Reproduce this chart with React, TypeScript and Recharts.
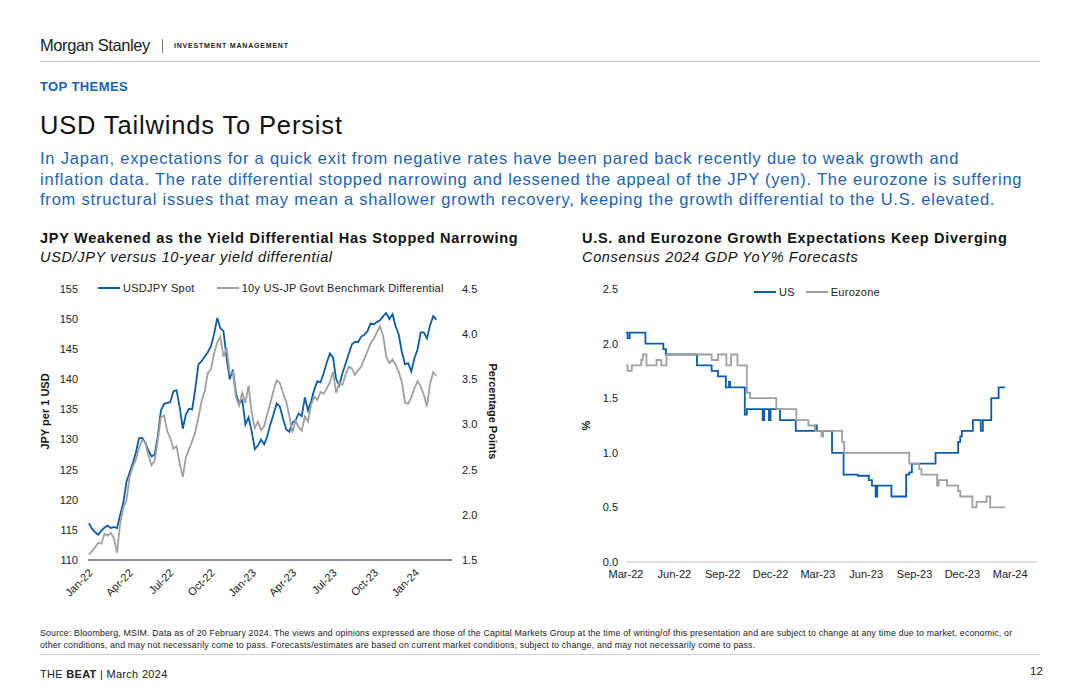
import { LineChart, Line, XAxis, YAxis, Legend, Label } from 'recharts';

const DAY = 86400000;

// USD/JPY vs 10y differential, weekly readings from 3 Jan 2022
const fxWeekStart = '2022-01-03';
const usdJpySpot = [
  116.1, 115.2, 114.6, 114.2, 114.9, 115.4, 115.7, 115.3, 115.5, 115.3,
  117.5, 119.5, 123.0, 124.5, 126.0, 127.8, 130.2, 130.3, 129.5, 128.2,
  127.2, 127.5, 130.5, 134.8, 135.9, 136.1, 136.2, 138.0, 138.2, 135.4,
  131.8, 134.2, 135.1, 135.0, 138.5, 142.5, 143.0, 143.8, 144.5, 145.5,
  147.5, 150.2, 148.5, 148.0, 143.5, 140.0, 141.6, 137.6, 136.0, 136.5,
  132.5, 133.7, 131.4, 128.4, 129.0, 130.0, 129.2, 130.6, 132.6, 134.2,
  136.0, 135.5, 133.5, 131.7, 131.3, 132.8, 133.2, 134.3, 133.9, 137.0,
  134.8, 136.4, 138.3, 139.7, 139.5, 141.0, 142.8, 144.3, 143.6, 140.0,
  139.0, 141.0, 142.6, 144.2, 145.8, 146.2, 146.2, 147.1, 147.4, 148.0,
  149.3, 149.1, 149.5, 149.8, 150.5, 151.0, 150.0, 150.8, 148.8, 147.4,
  144.5, 142.5, 142.7, 141.3, 143.5, 145.0, 147.8, 147.8, 146.8, 149.0,
  150.5, 149.9,
];
const yieldDiff = [
  1.56, 1.6, 1.64, 1.69, 1.68, 1.79, 1.77, 1.8, 1.74, 1.58,
  1.91, 2.08, 2.16, 2.42, 2.53, 2.61, 2.74, 2.83, 2.8, 2.66,
  2.55, 2.6, 2.82, 3.08, 3.1, 2.93, 2.85, 2.73, 2.76, 2.57,
  2.42, 2.64, 2.73, 2.82, 2.92, 3.08, 3.26, 3.37, 3.57, 3.61,
  3.79, 3.91, 3.97, 3.75, 3.85, 3.56, 3.58, 3.3, 3.21, 3.35,
  3.24, 3.43, 3.13, 2.96, 3.03, 2.94, 2.98, 3.12, 3.24, 3.38,
  3.49, 3.46, 3.35, 3.26, 3.1, 2.91, 3.04, 2.97, 2.93, 3.09,
  3.03, 3.22, 3.31, 3.27, 3.36, 3.34, 3.4, 3.47, 3.58, 3.35,
  3.46, 3.44, 3.55, 3.64, 3.62, 3.55, 3.6, 3.64, 3.73, 3.81,
  3.9, 3.95, 4.02, 4.09, 3.98, 3.75, 3.68, 3.72, 3.66, 3.58,
  3.47, 3.24, 3.23, 3.3, 3.4, 3.48, 3.42, 3.33, 3.2, 3.45,
  3.58, 3.54,
];
const fxTickDates = [
  '2022-01-01', '2022-04-01', '2022-07-01', '2022-10-01', '2023-01-01',
  '2023-04-01', '2023-07-01', '2023-10-01', '2024-01-01',
];
const fxTickLabels = ['Jan-22', 'Apr-22', 'Jul-22', 'Oct-22', 'Jan-23', 'Apr-23', 'Jul-23', 'Oct-23', 'Jan-24'];
const jpyTicks = [110, 115, 120, 125, 130, 135, 140, 145, 150, 155];
const diffTicks = [1.5, 2.0, 2.5, 3.0, 3.5, 4.0, 4.5];

// consensus 2024 GDP forecasts, value holds from each date
const usGdpDates = [
  '2022-03-01', '2022-03-04', '2022-03-08', '2022-04-07', '2022-05-11', '2022-05-16',
  '2022-07-14', '2022-08-11', '2022-08-23', '2022-09-07', '2022-09-13', '2022-09-15',
  '2022-10-13', '2022-10-17', '2022-11-16', '2022-11-19', '2022-11-28', '2022-12-01',
  '2022-12-19', '2023-01-18', '2023-02-24', '2023-02-27', '2023-03-28', '2023-04-19',
  '2023-05-16', '2023-06-06', '2023-06-12', '2023-06-19', '2023-06-22', '2023-07-19',
  '2023-08-16', '2023-08-22', '2023-08-27', '2023-10-11', '2023-11-23', '2023-11-27',
  '2023-11-30', '2023-12-21', '2024-01-05', '2024-01-09', '2024-01-25', '2024-02-08',
  '2024-02-20',
];
const usGdpValues = [
  2.1, 2.05, 2.1, 2.0, 1.95, 1.9,
  1.8, 1.75, 1.7, 1.6, 1.65, 1.6,
  1.35, 1.4, 1.3, 1.4, 1.3, 1.4,
  1.3, 1.2, 1.25, 1.2, 1.0, 0.8,
  0.79, 0.75, 0.7, 0.6, 0.7, 0.6,
  0.8, 0.82, 0.9, 1.0, 1.1, 1.15,
  1.2, 1.3, 1.2, 1.3, 1.5, 1.6,
  1.6,
];
const ezGdpDates = [
  '2022-03-01', '2022-03-04', '2022-03-12', '2022-03-30', '2022-04-02', '2022-04-09',
  '2022-04-28', '2022-05-07', '2022-05-17', '2022-08-11', '2022-08-23', '2022-09-08',
  '2022-09-17', '2022-09-29', '2022-10-17', '2022-10-23', '2022-12-12', '2023-01-19',
  '2023-02-11', '2023-02-24', '2023-03-08', '2023-03-11', '2023-04-16', '2023-04-20',
  '2023-08-22', '2023-09-10', '2023-09-14', '2023-10-14', '2023-10-17', '2023-11-02',
  '2023-11-23', '2023-11-27', '2023-12-20', '2023-12-28', '2024-01-16', '2024-01-23',
  '2024-02-20',
];
const ezGdpValues = [
  1.8, 1.75, 1.8, 1.85, 1.9, 1.8,
  1.85, 1.8, 1.9, 1.85, 1.9, 1.8,
  1.9, 1.8, 1.55, 1.5, 1.4, 1.3,
  1.25, 1.2, 1.15, 1.2, 1.1, 1.0,
  0.9, 0.85, 0.8, 0.7, 0.75, 0.7,
  0.65, 0.6, 0.5, 0.55, 0.6, 0.5,
  0.5,
];
const gdpTickDates = [
  '2022-03-01', '2022-06-01', '2022-09-01', '2022-12-01', '2023-03-01',
  '2023-06-01', '2023-09-01', '2023-12-01', '2024-03-01',
];
const gdpTickLabels = ['Mar-22', 'Jun-22', 'Sep-22', 'Dec-22', 'Mar-23', 'Jun-23', 'Sep-23', 'Dec-23', 'Mar-24'];
const gdpTicks = [0, 0.5, 1.0, 1.5, 2.0, 2.5];

const BLUE = '#0b5cab';
const GREY = '#a0a0a0';
const FONT = '"Liberation Sans", Arial, sans-serif';

const fxStart = Date.parse(fxWeekStart);
const fxData = usdJpySpot.map((v, i) => ({ t: fxStart + i * 7 * DAY, usd: v, diff: yieldDiff[i] }));
const fxTicks = fxTickDates.map((d) => Date.parse(d));
const usData = usGdpDates.map((d, i) => ({ t: Date.parse(d), v: usGdpValues[i] }));
const ezData = ezGdpDates.map((d, i) => ({ t: Date.parse(d), v: ezGdpValues[i] }));
const gdpTickTimes = gdpTickDates.map((d) => Date.parse(d));

const tickStyle = { fontSize: 11, fill: '#222', fontFamily: FONT };

const LegendKey = ({ color, text, gap }: { color: string; text: string; gap: number }) => (
  <div style={{ display: 'flex', alignItems: 'center', marginRight: gap }}>
    <div style={{ width: 22, height: 2, background: color, marginRight: 3 }} />
    <span style={{ fontSize: 11, letterSpacing: 0.25, color: '#222', fontFamily: FONT }}>{text}</span>
  </div>
);

const fxLegend = () => (
  <div style={{ display: 'flex' }}>
    <LegendKey color={BLUE} text="USDJPY Spot" gap={22} />
    <LegendKey color={GREY} text="10y US-JP Govt Benchmark Differential" gap={0} />
  </div>
);

const gdpLegend = () => (
  <div style={{ display: 'flex' }}>
    <LegendKey color={BLUE} text="US" gap={11} />
    <LegendKey color={GREY} text="Eurozone" gap={0} />
  </div>
);

const axisTitle = (text: string, dx: number, dy: number, angle: number) => (props: any) => {
  const vb = props.viewBox || {};
  const x = vb.x + dx;
  const y = vb.y + vb.height / 2 + dy;
  return (
    <text
      x={x}
      y={y}
      transform={`rotate(${angle}, ${x}, ${y})`}
      textAnchor="middle"
      dominantBaseline="central"
      style={{ fontSize: 11, fontWeight: 'bold', fill: '#111', fontFamily: FONT }}
    >
      {text}
    </text>
  );
};

const abs = (left: number, top: number, extra: any = {}) => ({
  position: 'absolute' as const,
  left,
  top,
  whiteSpace: 'nowrap' as const,
  ...extra,
});

const App = () => {
  return (
    <div style={{ position: 'absolute', left: 0, top: 0, width: 1080, height: 699, background: '#fff', fontFamily: FONT, overflow: 'hidden' }}>
      <div style={abs(40, 37, { fontSize: 16.5, lineHeight: 1, color: '#1a1a1a', letterSpacing: -0.4 })}>Morgan Stanley</div>
      <div style={abs(162, 39, { width: 1, height: 14, background: '#777' })} />
      <div style={abs(174, 42, { fontSize: 7, lineHeight: 1, fontWeight: 'bold', letterSpacing: 0.8, color: '#222' })}>INVESTMENT MANAGEMENT</div>
      <div style={abs(40, 61, { width: 1000, height: 1, background: '#c8c8c8' })} />

      <div style={abs(40, 80, { fontSize: 13, lineHeight: 1, fontWeight: 'bold', letterSpacing: 0.4, color: '#1462b8' })}>TOP THEMES</div>
      <div style={abs(40, 113, { fontSize: 25.5, lineHeight: 1, letterSpacing: 0.85, color: '#111' })}>USD Tailwinds To Persist</div>
      <div style={abs(40, 148, { fontSize: 16.5, lineHeight: '20.5px', letterSpacing: 0.78, color: '#1d63b6' })}>
        In Japan, expectations for a quick exit from negative rates have been pared back recently due to weak growth and
        <br />
        inflation data. The rate differential stopped narrowing and lessened the appeal of the JPY (yen). The eurozone is suffering
        <br />
        from structural issues that may mean a shallower growth recovery, keeping the growth differential to the U.S. elevated.
      </div>

      <div style={abs(40, 231, { fontSize: 14.5, lineHeight: 1, fontWeight: 'bold', letterSpacing: 0.73, color: '#111' })}>
        JPY Weakened as the Yield Differential Has Stopped Narrowing
      </div>
      <div style={abs(40, 250, { fontSize: 14.5, lineHeight: 1, fontStyle: 'italic', letterSpacing: 0.66, color: '#111' })}>
        USD/JPY versus 10-year yield differential
      </div>
      <div style={abs(582, 231, { fontSize: 14.5, lineHeight: 1, fontWeight: 'bold', letterSpacing: 0.73, color: '#111' })}>
        U.S. and Eurozone Growth Expectations Keep Diverging
      </div>
      <div style={abs(582, 250, { fontSize: 14.5, lineHeight: 1, fontStyle: 'italic', letterSpacing: 0.66, color: '#111' })}>
        Consensus 2024 GDP YoY% Forecasts
      </div>

      <div style={abs(30, 280)}>
        <LineChart width={480} height={330} data={fxData} margin={{ top: 9, right: 8, bottom: 0, left: 8 }}>
          <XAxis
            dataKey="t"
            type="number"
            scale="time"
            domain={[Date.parse('2022-01-01'), Date.parse('2024-03-25')]}
            ticks={fxTicks}
            interval={0}
            tickFormatter={(v: number) => fxTickLabels[fxTicks.indexOf(v)] ?? ''}
            angle={-45}
            textAnchor="end"
            height={50}
            tickLine={false}
            axisLine={{ stroke: '#222', strokeWidth: 1.2 }}
            tick={tickStyle}
          />
          <YAxis
            yAxisId="jpy"
            domain={[110, 155]}
            ticks={jpyTicks}
            interval={0}
            width={50}
            axisLine={false}
            tickLine={false}
            tickMargin={4}
            tick={tickStyle}
          >
            <Label content={axisTitle('JPY per 1 USD', 7, -13, -90)} />
          </YAxis>
          <YAxis
            yAxisId="pp"
            orientation="right"
            domain={[1.5, 4.5]}
            ticks={diffTicks}
            interval={0}
            width={50}
            axisLine={false}
            tickLine={false}
            tickMargin={4}
            tickFormatter={(v: number) => v.toFixed(1)}
            tick={tickStyle}
          >
            <Label content={axisTitle('Percentage Points', 41, -13, 90)} />
          </YAxis>
          <Legend
            verticalAlign="middle"
            layout="horizontal"
            content={fxLegend}
            wrapperStyle={{ top: 2, left: 68, width: 400 }}
          />
          <Line yAxisId="jpy" dataKey="usd" stroke={BLUE} strokeWidth={1.8} dot={false} isAnimationActive={false} />
          <Line yAxisId="pp" dataKey="diff" stroke={GREY} strokeWidth={1.8} dot={false} isAnimationActive={false} />
        </LineChart>
      </div>

      <div style={abs(570, 280)}>
        <LineChart width={480} height={310} margin={{ top: 9, right: 13, bottom: 0, left: 16 }}>
          <XAxis
            dataKey="t"
            type="number"
            scale="time"
            domain={[Date.parse('2022-03-01'), Date.parse('2024-04-21')]}
            ticks={gdpTickTimes}
            interval={0}
            tickFormatter={(v: number) => gdpTickLabels[gdpTickTimes.indexOf(v)] ?? ''}
            height={28}
            tickLine={false}
            axisLine={{ stroke: '#bdbdbd' }}
            tick={tickStyle}
          />
          <YAxis
            domain={[0, 2.5]}
            ticks={gdpTicks}
            interval={0}
            width={40}
            axisLine={false}
            tickLine={false}
            tickMargin={2}
            tickFormatter={(v: number) => v.toFixed(1)}
            tick={tickStyle}
          >
            <Label content={axisTitle('%', 0, 0, -90)} />
          </YAxis>
          <Legend
            verticalAlign="middle"
            layout="horizontal"
            content={gdpLegend}
            wrapperStyle={{ top: 6, left: 184, width: 200 }}
          />
          <Line data={usData} dataKey="v" type="stepAfter" stroke={BLUE} strokeWidth={1.8} dot={false} isAnimationActive={false} />
          <Line data={ezData} dataKey="v" type="stepAfter" stroke={GREY} strokeWidth={1.8} dot={false} isAnimationActive={false} />
        </LineChart>
      </div>

      <div style={abs(40, 627, { fontSize: 8.8, lineHeight: '12px', letterSpacing: 0.17, color: '#222' })}>
        Source: Bloomberg, MSIM. Data as of 20 February 2024. The views and opinions expressed are those of the Capital Markets Group at the time of writing/of this presentation and are subject to change at any time due to market, economic, or
        <br />
        other conditions, and may not necessarily come to pass. Forecasts/estimates are based on current market conditions, subject to change, and may not necessarily come to pass.
      </div>
      <div style={abs(40, 654, { width: 1000, height: 1, background: '#cfcfcf' })} />
      <div style={abs(40, 669, { fontSize: 11, lineHeight: 1, letterSpacing: 0.3, color: '#222' })}>
        THE <b>BEAT</b> | March 2024
      </div>
      <div style={abs(1030, 666, { fontSize: 11.5, lineHeight: 1, color: '#222' })}>12</div>
    </div>
  );
};

export default App;
